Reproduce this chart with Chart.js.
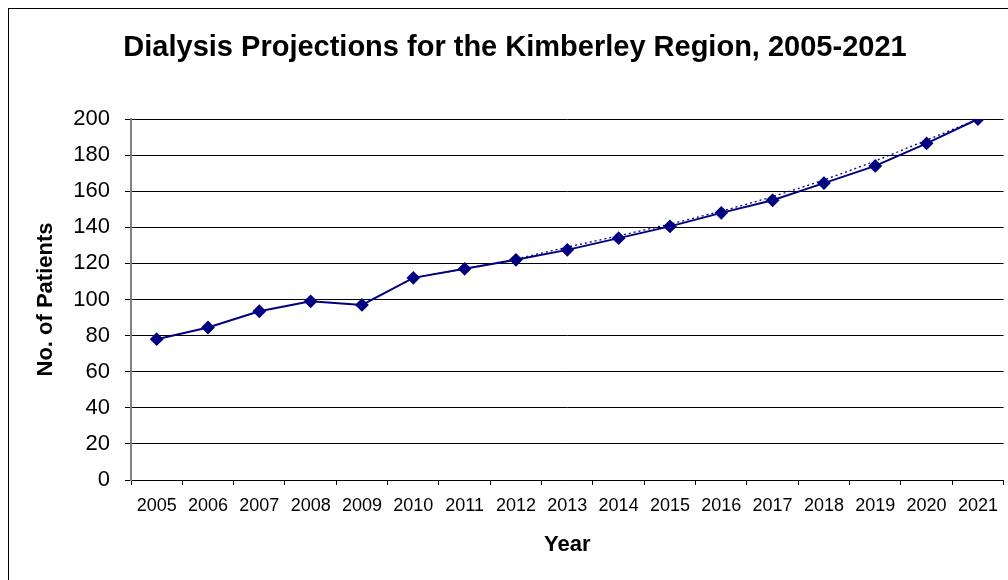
<!DOCTYPE html>
<html>
<head>
<meta charset="utf-8">
<script src="https://cdn.jsdelivr.net/npm/chart.js@4/dist/chart.umd.min.js"></script>
<style>
  html, body { margin: 0; padding: 0; background: #fff; }
  #wrap { position: relative; width: 1008px; height: 580px; overflow: hidden; }
  #frame { position: absolute; left: 8px; top: 8px; width: 1100px; height: 700px;
           border-left: 1px solid #000; border-top: 1px solid #000; }
  #c { position: absolute; left: 0; top: 0; }
</style>
</head>
<body>
<div id="wrap">
  <div id="frame"></div>
  <canvas id="c" width="1008" height="580"></canvas>
</div>
<script>
// Years on the category axis
const years = ['2005','2006','2007','2008','2009','2010','2011','2012','2013',
               '2014','2015','2016','2017','2018','2019','2020','2021'];

// Patient numbers (actual 2005-2009, projected 2010-2021)
const patients = [78, 84.5, 93.5, 99, 97, 112, 117, 122, 127.5,
                  134, 140.5, 148, 155, 164.5, 174, 186.5, 200];

// Trend line over the projection period (null before 2010)
const trend = [null, null, null, null, null, 112, 117, 122.5, 129,
               135.3, 141.8, 149, 157, 166.3, 176.8, 188.3, 200];

// Y axis tick values
const yTicks = [0, 20, 40, 60, 80, 100, 120, 140, 160, 180, 200];

const chartTitle = 'Dialysis Projections for the Kimberley Region, 2005-2021';

const navy = '#000080';
const FONT = 'Liberation Sans, Arial, sans-serif';

// Draws the chart heading slightly right of the canvas centre, over the plot
const headingPlugin = {
  id: 'heading',
  afterDraw(chart) {
    const ctx = chart.ctx;
    ctx.save();
    ctx.fillStyle = '#000';
    ctx.font = 'bold 29px ' + FONT;
    ctx.textAlign = 'center';
    ctx.textBaseline = 'middle';
    ctx.fillText(chartTitle, 515, 48);
    ctx.restore();
  }
};

new Chart(document.getElementById('c'), {
  type: 'line',
  data: {
    labels: years,
    datasets: [
      {
        label: 'Patients',
        data: patients,
        borderColor: navy,
        backgroundColor: navy,
        borderWidth: 2,
        pointStyle: 'rectRot',
        pointRadius: 5.5,
        pointBackgroundColor: navy,
        pointBorderColor: navy,
        tension: 0,
        order: 1
      },
      {
        label: 'Trend',
        data: trend,
        borderColor: navy,
        borderWidth: 1.3,
        borderDash: [2, 3],
        pointRadius: 0,
        cubicInterpolationMode: 'monotone',
        spanGaps: false,
        order: 2
      }
    ]
  },
  plugins: [headingPlugin],
  options: {
    responsive: false,
    animation: false,
    layout: { autoPadding: false, padding: { left: 0, right: 2, top: 119, bottom: 0 } },
    plugins: {
      legend: { display: false },
      tooltip: { enabled: false },
      title: { display: false }
    },
    scales: {
      x: {
        type: 'category',
        offset: true,
        afterFit: (s) => { s.height = 100; },
        grid: { display: true, offset: true, drawOnChartArea: false, tickLength: 5, color: '#000' },
        border: { display: true, color: '#000', width: 1 },
        ticks: { color: '#000', font: { family: FONT, size: 18 }, padding: 10, maxRotation: 0, autoSkip: false },
        title: {
          display: true, text: 'Year', color: '#000',
          font: { family: FONT, size: 22, weight: 'bold' },
          padding: { top: 0, bottom: 22 }
        }
      },
      y: {
        min: 0,
        max: 200,
        afterFit: (s) => { s.width = 131; },
        afterBuildTicks: (s) => { s.ticks = yTicks.map(v => ({ value: v })); },
        grid: { color: '#000', lineWidth: 1, tickLength: 6 },
        border: { display: true, color: '#808080', width: 2 },
        ticks: { color: '#000', font: { family: FONT, size: 22 }, padding: 15 },
        title: {
          display: true, text: 'No. of Patients', color: '#000',
          font: { family: FONT, size: 22, weight: 'bold' },
          padding: { top: 33, bottom: 0 }
        }
      }
    }
  }
});
</script>
</body>
</html>
